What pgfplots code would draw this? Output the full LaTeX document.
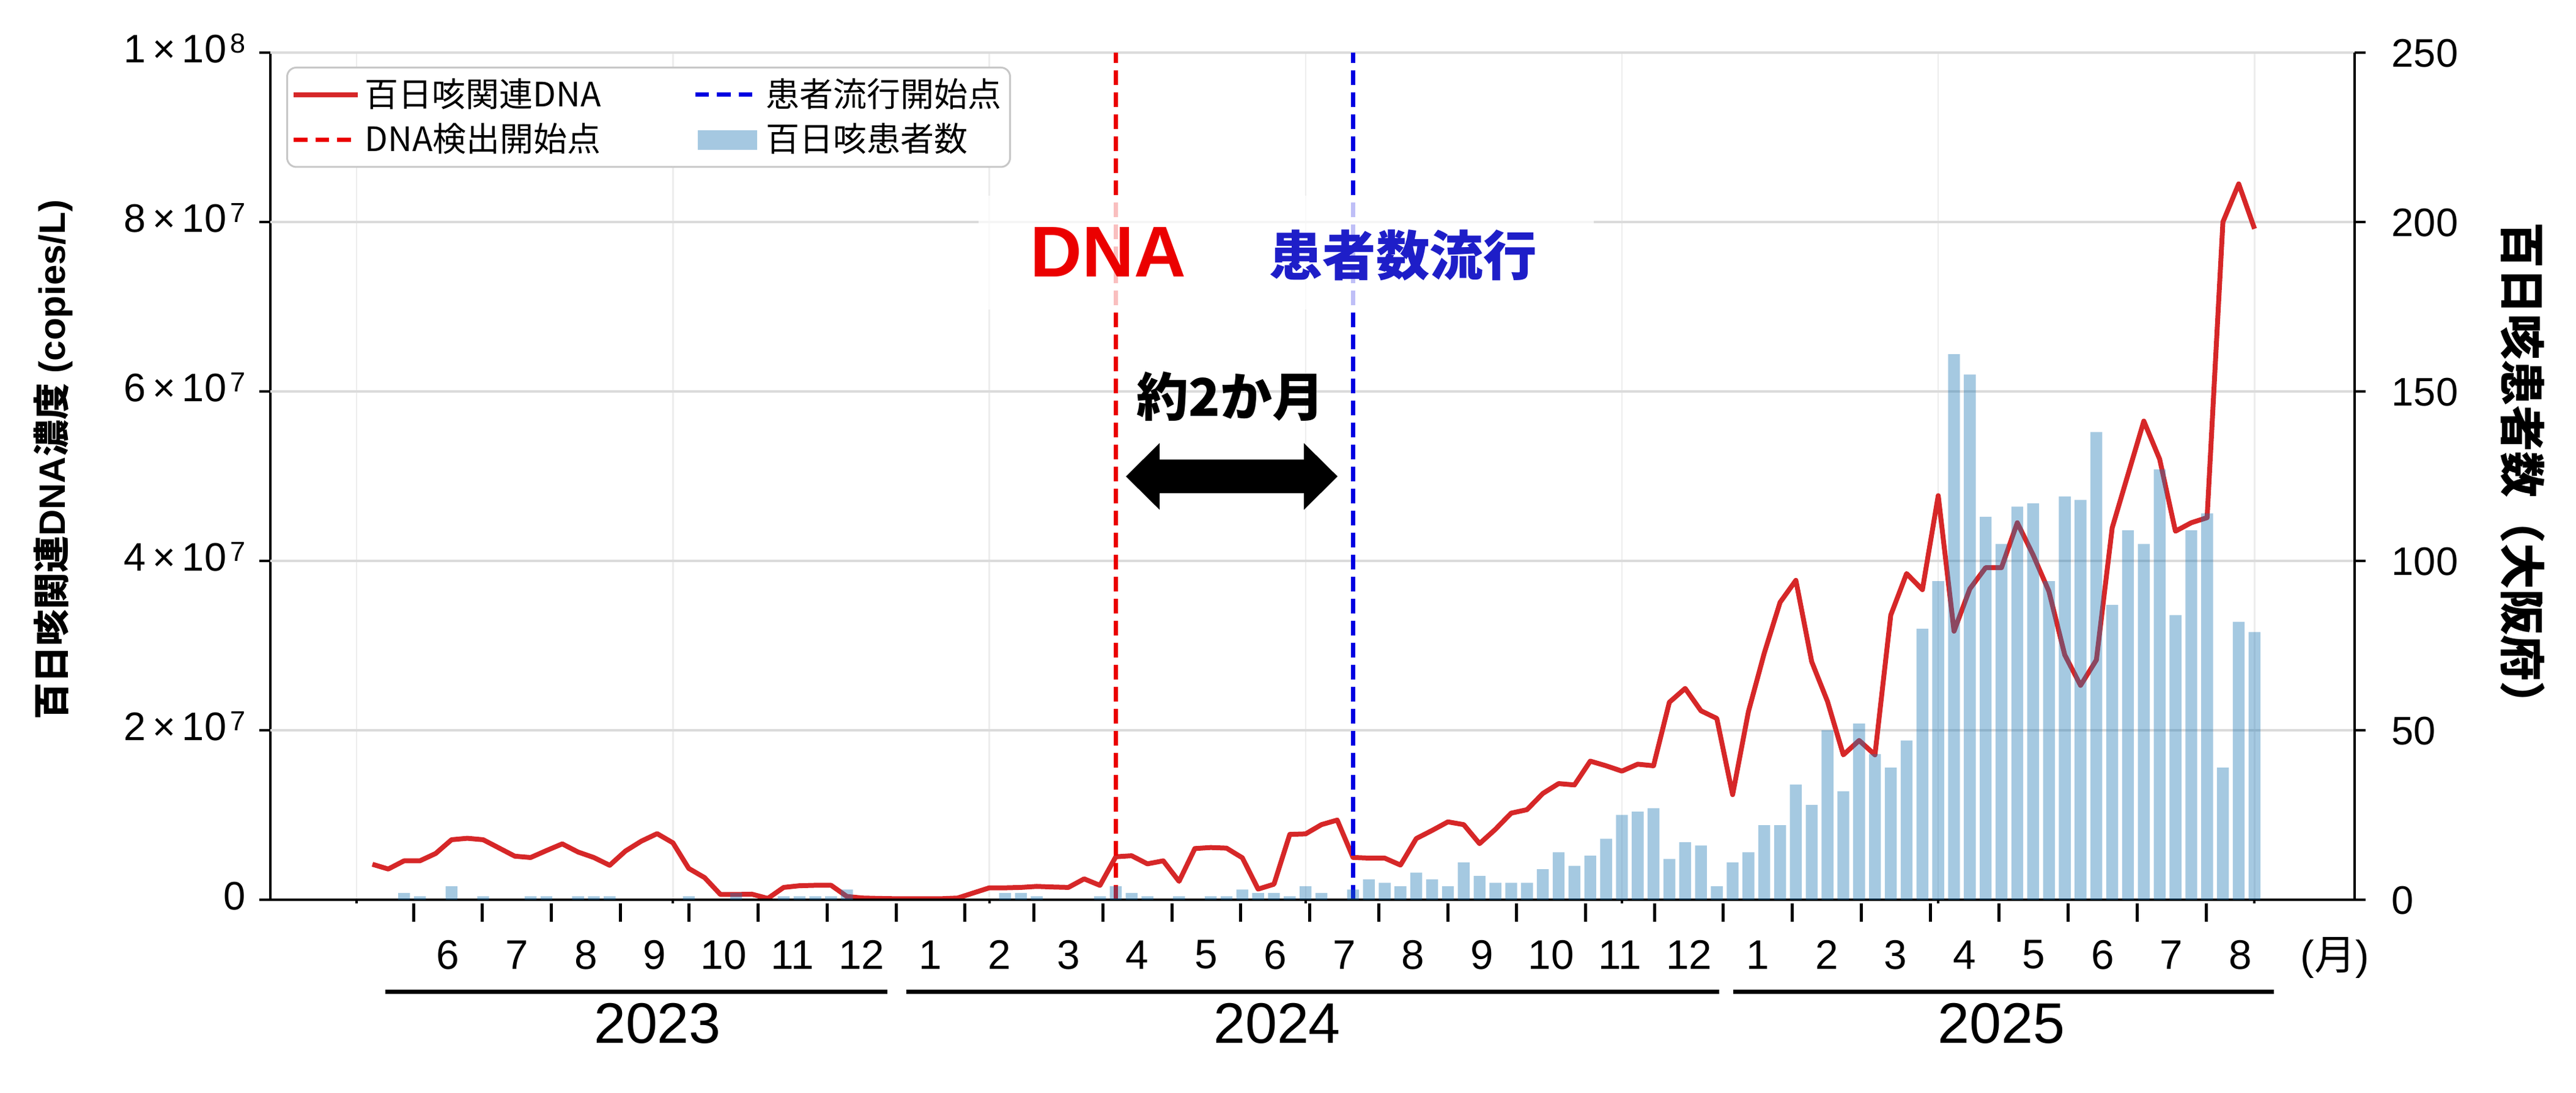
\documentclass[border=0pt]{standalone}
\usepackage{fontspec}
\setmainfont{Liberation Sans}
\newfontfamily\jp{Noto Sans CJK JP}
\usepackage{pgfplots}
\pgfplotsset{compat=1.18}
\definecolor{tabred}{RGB}{214,39,40}
\definecolor{tabblue}{RGB}{31,119,180}
\definecolor{vred}{RGB}{235,0,0}
\definecolor{vblue}{RGB}{0,0,225}
\definecolor{annblue}{RGB}{30,30,200}
\newcommand{\fs}[1]{\fontsize{#1}{#1}\selectfont}
\newcommand{\sci}[2]{#1\,×\,10\hspace{1.2pt}\raisebox{3.1pt}{\fs{9}#2}}
\pgfplotsset{
  lineleg/.style={legend image code/.code={\draw[sharp corners,##1] (0pt,0pt) -- (21pt,0pt);}},
  barleg/.style={legend image code/.code={\fill[sharp corners,##1] (0.8pt,-3.2pt) rectangle (20.2pt,3.2pt);}},
}
\begin{document}
\begin{tikzpicture}
\useasboundingbox (0,0) rectangle (842.4pt,357.4pt);
% ---------- left axis: DNA concentration ----------
\begin{axis}[
  at={(88.4pt,63.2pt)}, anchor=south west,
  scale only axis, width=681.6pt, height=277pt,
  xmin=-45.2, xmax=877.3, ymin=0, ymax=1e8,
  enlargelimits=false,
  axis line style={line width=0.8pt},
  tick align=outside,
  xtick pos=bottom, ytick pos=left,
  major tick length=1.2pt,
  tick style={line width=0.8pt, black},
  xtick={-7,133,273,413,553,693,833}, xticklabels={},
  xmajorgrids,
  major grid style={black!14, line width=0.7pt},
  every axis x grid/.append style={black!7, line width=0.5pt},
  ytick=\empty,
  scaled y ticks=false,
  extra y ticks={0,2e7,4e7,6e7,8e7,1e8},
  extra y tick labels={0\hspace{3.6pt},\sci{2}{7},\sci{4}{7},\sci{6}{7},\sci{8}{7},\sci{1}{8}},
  extra y tick style={major tick length=3.6pt, grid=major},
  yticklabel style={font=\fs{13}, anchor=base east, xshift=-1pt, yshift=-3.3pt},
  extra x ticks={18.14,48.66,79.17,109.69,140.20,170.72,201.23,231.75,262.26,292.78,323.29,353.81,384.32,414.84,445.35,475.87,506.38,536.90,567.41,597.93,628.44,658.96,689.47,719.99,750.50,781.02,811.53},
  extra x tick labels={},
  extra x tick style={major tick length=6pt, grid=none, tick style={yshift=-1.2pt, line width=1pt, black}},
]
\addplot[tabred, line width=1.6pt, line join=round, mark=none] coordinates {
(0,4.18e6) (7,3.62e6) (14,4.59e6) (21,4.59e6) (28,5.46e6) (35,7.08e6) (42,7.25e6) (49,7.08e6)
(56,6.11e6) (63,5.14e6) (70,4.98e6) (77,5.80e6) (84,6.59e6) (91,5.63e6) (98,4.98e6) (105,4.06e6)
(112,5.75e6) (119,6.91e6) (126,7.80e6) (133,6.71e6) (140,3.69e6) (147,2.61e6) (154,0.62e6) (161,0.62e6)
(168,0.65e6) (175,0.15e6) (182,1.45e6) (189,1.65e6) (196,1.70e6) (203,1.70e6) (210,0.38e6) (217,0.20e6)
(224,0.15e6) (231,0.12e6) (238,0.12e6) (245,0.12e6) (252,0.12e6) (259,0.20e6) (266,0.80e6) (273,1.40e6)
(280,1.40e6) (287,1.45e6) (294,1.57e6) (301,1.50e6) (308,1.45e6) (315,2.46e6) (322,1.69e6) (329,5.07e6)
(336,5.19e6) (343,4.23e6) (350,4.59e6) (357,2.17e6) (364,6.04e6) (371,6.16e6) (378,6.09e6) (385,4.95e6)
(392,1.25e6) (399,1.83e6) (406,7.71e6) (413,7.77e6) (420,8.86e6) (427,9.40e6) (434,4.99e6) (441,4.91e6)
(448,4.91e6) (455,4.09e6) (462,7.22e6) (469,8.18e6) (476,9.19e6) (483,8.86e6) (490,6.62e6) (497,8.31e6)
(504,10.22e6) (511,10.63e6) (518,12.54e6) (525,13.71e6) (532,13.55e6) (539,16.36e6) (546,15.81e6) (553,15.18e6)
(560,16.00e6) (567,15.81e6) (574,23.31e6) (581,24.94e6) (588,22.3e6) (595,21.4e6) (602,12.4e6) (609,22.2e6)
(616,29.1e6) (623,35.1e6) (630,37.7e6) (637,28.1e6) (644,23.4e6) (651,17.1e6) (658,18.8e6) (665,17.1e6)
(672,33.6e6) (679,38.5e6) (686,36.6e6) (693,47.7e6) (700,31.7e6) (707,36.7e6) (714,39.2e6) (721,39.2e6)
(728,44.5e6) (735,40.7e6) (742,36.4e6) (749,28.9e6) (756,25.3e6) (763,28.3e6) (770,43.9e6) (777,50.2e6)
(784,56.5e6) (791,52.0e6) (798,43.5e6) (805,44.5e6) (812,45.1e6) (819,80.0e6) (826,84.5e6) (833,79.2e6)
};
\addplot[vred, line width=1.4pt, dash pattern=on 4.8pt off 2.4pt] coordinates {(329,0) (329,1e8)};
\addplot[vblue, line width=1.4pt, dash pattern=on 4.8pt off 2.4pt] coordinates {(434,0) (434,1e8)};
\end{axis}
% ---------- right axis: patients ----------
\begin{axis}[
  at={(88.4pt,63.2pt)}, anchor=south west,
  scale only axis, width=681.6pt, height=277pt,
  xmin=-45.2, xmax=877.3, ymin=0, ymax=250,
  enlargelimits=false,
  axis y line*=right, axis x line*=bottom,
  axis line style={line width=0.8pt},
  tick align=outside,
  major tick length=3.6pt,
  tick style={line width=0.8pt, black},
  ytick={0,50,100,150,200,250},
  /pgf/number format/assume math mode=true,
  yticklabel style={font=\fs{13}, anchor=base west, xshift=5pt, yshift=-4.65pt},
  xtick=\empty,
  extra x ticks={33.40,63.91,94.43,124.94,155.46,185.97,216.49,247.00,277.52,308.03,338.55,369.06,399.58,430.09,460.61,491.12,521.64,552.15,582.67,613.18,643.70,674.21,704.73,735.24,765.76,796.27,826.79},
  extra x tick labels={6,7,8,9,10,11,12,1,2,3,4,5,6,7,8,9,10,11,12,1,2,3,4,5,6,7,8},
  extra x tick style={major tick length=0pt, grid=none},
  xticklabel style={font=\fs{13.5}, anchor=center, yshift=-18pt},
  legend columns=2,
  legend cell align=left,
  legend style={at={(0,1)}, anchor=north west, xshift=5.2pt, yshift=-4.6pt,
    draw=black!22, line width=0.6pt, rounded corners=3pt, fill=white,
    font=\jp\fs{11}, inner xsep=1.3pt, inner ysep=2pt, row sep=1pt,
    nodes={inner sep=1.5pt},
    /tikz/every even column/.append style={column sep=28.6pt}},
  lineleg,
]
\addlegendimage{tabred, line width=1.6pt}
\addlegendimage{vblue, line width=1.4pt, dash pattern=on 4.5pt off 2.6pt}
\addlegendimage{vred, line width=1.4pt, dash pattern=on 4.5pt off 2.6pt}
\addplot[ybar, bar width=5.25, bar shift=0pt, fill=tabblue, fill opacity=0.4, draw=none, barleg] coordinates {
(14,2) (21,1) (35,4) (49,1) (70,1) (77,1) (91,1) (98,1) (105,1) (140,1) (161,2)
(182,1) (189,1) (196,1) (203,1) (210,3) (280,2) (287,2) (294,1) (322,1) (329,4) (336,2) (343,1)
(357,1) (371,1) (378,1) (385,3) (392,2) (399,2) (406,1) (413,4) (420,2) (434,3) (441,6) (448,5)
(455,4) (462,8) (469,6) (476,4) (483,11) (490,7) (497,5) (504,5) (511,5) (518,9) (525,14) (532,10)
(539,13) (546,18) (553,25) (560,26) (567,27) (574,12) (581,17) (588,16) (595,4) (602,11) (609,14)
(616,22) (623,22) (630,34) (637,28) (644,50) (651,32) (658,52) (665,43) (672,39) (679,47) (686,80)
(693,94) (700,161) (707,155) (714,113) (721,105) (728,116) (735,117) (742,94) (749,119) (756,118)
(763,138) (770,87) (777,109) (784,105) (791,127) (798,84) (805,109) (812,114) (819,39) (826,82) (833,79)
};
\legend{百日咳関連DNA, 患者流行開始点, DNA検出開始点, 百日咳患者数}
\end{axis}
% ---------- annotations ----------
\fill[white, opacity=0.75] (320pt,256.2pt) rectangle (521.2pt,293.4pt);
\node[text=vred, font=\bfseries\fs{23.5}] at (362.4pt,275pt) {DNA};
\node[text=annblue, font=\jp\bfseries\fs{17.5}] at (458.8pt,274pt) {患者数流行};
\node[font=\jp\bfseries\fs{17}] at (402.4pt,227.8pt) {約2か月};
\fill[black] (368.2pt,201.6pt) -- (379.2pt,212.5pt) -- (379.2pt,207.1pt) -- (426.4pt,207.1pt)
  -- (426.4pt,212.5pt) -- (437.4pt,201.6pt) -- (426.4pt,190.7pt) -- (426.4pt,196.1pt)
  -- (379.2pt,196.1pt) -- (379.2pt,190.7pt) -- cycle;
% axis titles
\node[rotate=90, font=\bfseries\fs{12}] at (17.5pt,207pt) {{\jp 百日咳関連}DNA{\jp 濃度} (copies/L)};
\node[rotate=-90, font=\jp\bfseries\fs{15}] at (825pt,202.2pt) {百日咳患者数（大阪府）};
% month unit and years
\node[font=\fs{13.5}] at (763.6pt,44.2pt) {({\jp 月})};
\draw[line width=1.4pt] (126pt,33pt) -- (290.2pt,33pt);
\draw[line width=1.4pt] (296.4pt,33pt) -- (562.2pt,33pt);
\draw[line width=1.4pt] (566.8pt,33pt) -- (743.6pt,33pt);
\node[font=\fs{18.7}] at (215pt,22.8pt) {2023};
\node[font=\fs{18.7}] at (417.6pt,22.8pt) {2024};
\node[font=\fs{18.7}] at (654.4pt,22.8pt) {2025};
\end{tikzpicture}
\end{document}
